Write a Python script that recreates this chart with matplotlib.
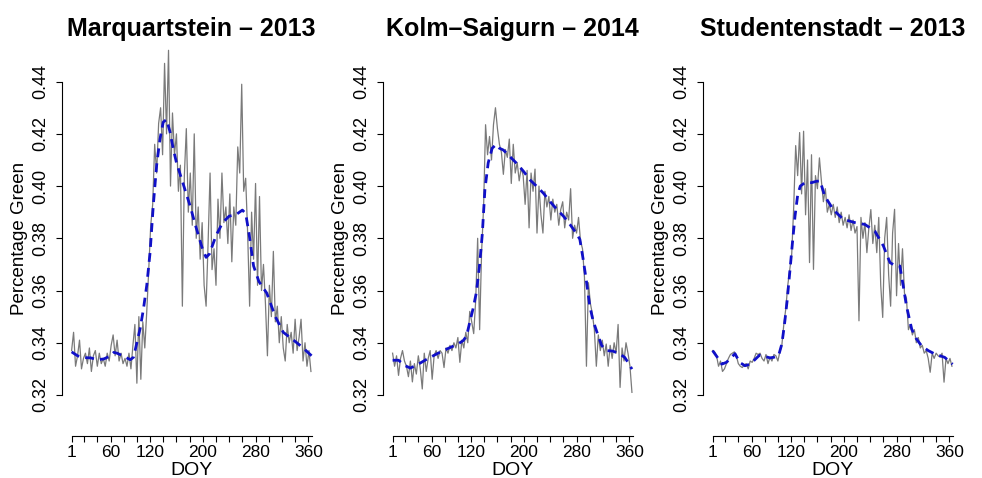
import numpy as np
import matplotlib
matplotlib.use("Agg")
import matplotlib.pyplot as plt

plt.rcParams['font.family'] = ['Liberation Sans', 'DejaVu Sans']

# ---- data ---------------------------------------------------------------
titles = ["Marquartstein \u2013 2013", "Kolm\u2013Saigurn \u2013 2014", "Studentenstadt \u2013 2013"]

# daily green-fraction observations (every third day of the year)
obs_days = np.arange(1, 366, 3)

marq_obs = [
    0.337, 0.344, 0.331, 0.335, 0.341, 0.330, 0.334, 0.336, 0.332, 0.338,
    0.329, 0.335, 0.337, 0.331, 0.336, 0.332, 0.334, 0.331, 0.336, 0.333,
    0.339, 0.343, 0.335, 0.341, 0.333, 0.336, 0.332, 0.334, 0.331, 0.336,
    0.330, 0.339, 0.347, 0.3245, 0.350, 0.326, 0.348, 0.338, 0.352, 0.368,
    0.385, 0.393, 0.416, 0.405, 0.424, 0.430, 0.412, 0.447, 0.420, 0.452,
    0.400, 0.428, 0.412, 0.420, 0.398, 0.408, 0.354, 0.404, 0.422, 0.390,
    0.405, 0.385, 0.420, 0.380, 0.392, 0.372, 0.386, 0.362, 0.354, 0.378,
    0.405, 0.368, 0.376, 0.362, 0.395, 0.380, 0.405, 0.386, 0.392, 0.378,
    0.397, 0.371, 0.392, 0.385, 0.415, 0.405, 0.439, 0.398, 0.403, 0.382,
    0.354, 0.390, 0.372, 0.401, 0.362, 0.396, 0.360, 0.370, 0.355, 0.335,
    0.362, 0.350, 0.375, 0.348, 0.354, 0.340, 0.350, 0.338, 0.333, 0.347,
    0.340, 0.344, 0.336, 0.349, 0.337, 0.342, 0.349, 0.333, 0.340, 0.331,
    0.337, 0.329,
]

kolm_obs = [
    0.336, 0.331, 0.335, 0.3275, 0.334, 0.337, 0.333, 0.331, 0.327, 0.333,
    0.325, 0.332, 0.328, 0.335, 0.330, 0.3223, 0.336, 0.329, 0.334, 0.337,
    0.326, 0.335, 0.337, 0.334, 0.337, 0.336, 0.3305, 0.338, 0.336, 0.339,
    0.337, 0.340, 0.338, 0.342, 0.3325, 0.341, 0.338, 0.344, 0.340, 0.352,
    0.348, 0.3435, 0.356, 0.380, 0.345, 0.375, 0.392, 0.4235, 0.412, 0.419,
    0.410, 0.4235, 0.430, 0.422, 0.416, 0.413, 0.4045, 0.414, 0.411, 0.418,
    0.401, 0.416, 0.405, 0.409, 0.402, 0.407, 0.404, 0.393, 0.406, 0.384,
    0.405, 0.398, 0.4065, 0.382, 0.400, 0.389, 0.382, 0.398, 0.392, 0.396,
    0.387, 0.395, 0.390, 0.393, 0.385, 0.391, 0.394, 0.384, 0.390, 0.387,
    0.399, 0.380, 0.385, 0.382, 0.388, 0.379, 0.376, 0.365, 0.331, 0.363,
    0.355, 0.351, 0.345, 0.331, 0.343, 0.337, 0.341, 0.335, 0.3395, 0.331,
    0.339, 0.334, 0.340, 0.336, 0.347, 0.3229, 0.338, 0.333, 0.340, 0.336,
    0.331, 0.321,
]

stud_obs = [
    0.337, 0.3365, 0.335, 0.331, 0.333, 0.329, 0.330, 0.332, 0.334, 0.3355,
    0.336, 0.3365, 0.335, 0.332, 0.331, 0.3305, 0.3315, 0.332, 0.330, 0.333,
    0.3325, 0.334, 0.336, 0.3355, 0.336, 0.334, 0.333, 0.3355, 0.332, 0.3345,
    0.333, 0.3355, 0.335, 0.333, 0.3365, 0.339, 0.347, 0.353, 0.362, 0.368,
    0.374, 0.392, 0.4155, 0.404, 0.4205, 0.397, 0.421, 0.389, 0.410, 0.3707,
    0.412, 0.3681, 0.404, 0.399, 0.4108, 0.402, 0.394, 0.399, 0.390, 0.393,
    0.389, 0.393, 0.388, 0.392, 0.386, 0.390, 0.385, 0.388, 0.384, 0.389,
    0.383, 0.387, 0.382, 0.3845, 0.3484, 0.388, 0.380, 0.386, 0.3745, 0.384,
    0.391, 0.378, 0.385, 0.3745, 0.388, 0.362, 0.3497, 0.380, 0.388, 0.366,
    0.354, 0.382, 0.3911, 0.358, 0.378, 0.362, 0.376, 0.359, 0.357, 0.345,
    0.347, 0.343, 0.345, 0.340, 0.342, 0.338, 0.339, 0.336, 0.337, 0.334,
    0.3287, 0.336, 0.334, 0.336, 0.335, 0.3345, 0.336, 0.3249, 0.334, 0.332,
    0.334, 0.331,
]

# smoothed seasonal curves
marq_fit_days = [1, 10, 20, 30, 40, 50, 60, 65, 70, 80, 90, 95, 100, 105, 110,
                 115, 120, 125, 130, 135, 140, 145, 150, 155, 160, 170, 180,
                 190, 200, 205, 210, 220, 230, 240, 250, 260, 265, 270, 277,
                 285, 297, 310, 322, 335, 350, 362, 365]
marq_fit = [0.3365, 0.335, 0.3343, 0.3342, 0.3335, 0.3338, 0.335, 0.3363,
            0.336, 0.3348, 0.3335, 0.3345, 0.340, 0.3455, 0.353, 0.362,
            0.3745, 0.393, 0.408, 0.418, 0.4245, 0.4255, 0.421, 0.4145,
            0.409, 0.401, 0.393, 0.384, 0.3755, 0.3727, 0.374, 0.381, 0.386,
            0.3885, 0.389, 0.3908, 0.3895, 0.382, 0.3694, 0.3635, 0.359,
            0.350, 0.344, 0.3415, 0.3385, 0.3357, 0.335]

kolm_fit_days = [1, 10, 20, 28, 40, 55, 70, 85, 100, 108, 113, 118, 123, 128,
                 133, 137, 141, 146, 152, 158, 163, 169, 180, 190, 200, 210,
                 220, 230, 240, 250, 260, 270, 280, 285, 290, 295, 300, 305,
                 311, 318, 325, 335, 345, 353, 358, 364]
kolm_fit = [0.3333, 0.3333, 0.3312, 0.3303, 0.3318, 0.334, 0.336, 0.3378,
            0.3395, 0.3408, 0.3425, 0.3478, 0.353, 0.3592, 0.370, 0.3815,
            0.3987, 0.4089, 0.4145, 0.4159, 0.4145, 0.4138, 0.411, 0.4085,
            0.4055, 0.4022, 0.3998, 0.3972, 0.394, 0.3911, 0.3885, 0.3853,
            0.3818, 0.3796, 0.372, 0.3635, 0.3541, 0.3485, 0.344, 0.339,
            0.337, 0.3368, 0.3358, 0.3344, 0.3325, 0.3299]

stud_fit_days = [1, 8, 15, 22, 28, 35, 42, 50, 58, 65, 72, 80, 88, 95, 101,
                 106, 110, 114, 118, 122, 126, 130, 134, 141, 151, 158, 164,
                 171, 184, 199, 217, 232, 247, 260, 270, 278, 285, 290, 295,
                 303, 310, 318, 328, 338, 353, 365]
stud_fit = [0.337, 0.3345, 0.3318, 0.3325, 0.334, 0.3358, 0.3325, 0.3312,
            0.3318, 0.3335, 0.3352, 0.3348, 0.3342, 0.3345, 0.335, 0.3395,
            0.347, 0.356, 0.3669, 0.378, 0.3885, 0.3965, 0.400, 0.4013,
            0.4013, 0.4018, 0.402, 0.3962, 0.391, 0.3873, 0.386, 0.3853,
            0.3828, 0.3771, 0.3707, 0.3695, 0.3694, 0.362, 0.3541, 0.3452,
            0.3415, 0.3388, 0.337, 0.3357, 0.3344, 0.3318]

panels = [
    (marq_obs, marq_fit_days, marq_fit),
    (kolm_obs, kolm_fit_days, kolm_fit),
    (stud_obs, stud_fit_days, stud_fit),
]

y_ticks = [0.32, 0.34, 0.36, 0.38, 0.40, 0.42, 0.44]
x_major = [1, 60, 120, 200, 280, 360]
x_minor = [20, 40, 80, 100, 140, 160, 180, 220, 240, 260, 300, 320, 340]

# ---- figure -------------------------------------------------------------
W, H = 982, 478
fig = plt.figure(figsize=(W / 100, H / 100), dpi=100)

lefts_px = [62.0, 383.0, 703.0]
ax_w_px, ax_b_px, ax_h_px = 259.2, 42.3, 394.8

for (obs, fit_days, fit), title, lpx in zip(panels, titles, lefts_px):
    ax = fig.add_axes([lpx / W, ax_b_px / H, ax_w_px / W, ax_h_px / H])
    ax.plot(obs_days, obs, color="#7a7a7a", lw=0.9, zorder=2)
    ax.plot(fit_days, fit, color="#1010c8", lw=2.0, dashes=(3.2, 2.2),
            zorder=3)

    ax.set_xlim(1 - 0.04 * 364, 365 + 0.04 * 364)
    ax.set_ylim(0.31 - 0.04 * 0.14, 0.45 + 0.04 * 0.14)

    for side in ("top", "right"):
        ax.spines[side].set_visible(False)
    ax.spines["left"].set_bounds(0.32, 0.44)
    ax.spines["bottom"].set_bounds(1, 365)
    for side in ("left", "bottom"):
        ax.spines[side].set_linewidth(0.8)

    ax.set_yticks(y_ticks)
    ax.set_yticklabels([f"{v:.2f}" for v in y_ticks])
    ax.set_xticks(x_major)
    ax.set_xticklabels([str(v) for v in x_major])
    ax.set_xticks(x_minor, minor=True)

    ax.tick_params(axis="both", which="both", direction="out", length=4,
                   width=0.8, color="black")
    ax.tick_params(axis="y", labelsize=13, pad=5.5, labelrotation=90)
    ax.tick_params(axis="x", labelsize=12.5, pad=2.5)
    for lab in ax.get_yticklabels():
        lab.set_verticalalignment("center")

    ax.set_ylabel("Percentage Green", fontsize=13.5)
    ax.yaxis.label.set_verticalalignment("center")
    ax.yaxis.set_label_coords(-0.165, 0.5)
    ax.set_xlabel("DOY", fontsize=14)
    ax.xaxis.label.set_verticalalignment("center")
    ax.xaxis.set_label_coords(0.5, -0.087)

    ax.set_title(title, fontsize=18, fontweight="bold", pad=0)
    ax.title.set_verticalalignment("center")
    ax.title.set_y(1 + (ax_h_px + ax_b_px - (H - 18)) / ax_h_px)

fig.savefig("out.png", dpi=100)
